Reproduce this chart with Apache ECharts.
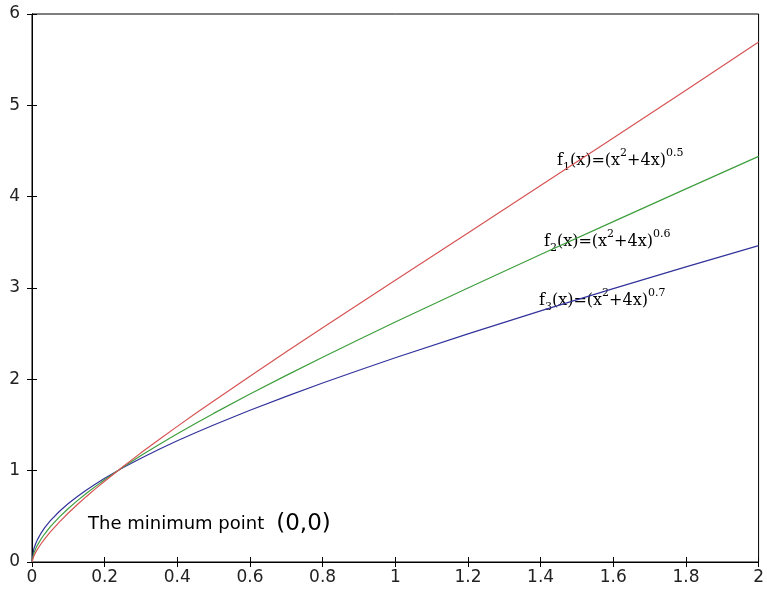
<!DOCTYPE html>
<html>
<head>
	<meta charset="UTF-8">
	<script src="https://cdn.jsdelivr.net/npm/echarts@6/dist/echarts.min.js"></script>
	<title></title>
	<style>html,body{margin:0;padding:0;background:#fff;}</style>
</head>
<body>
	<div id="main" style="height:594px;width:767px;"></div>
	<script type="text/javascript">
        // values
        var xs = [0, 0.005, 0.01, 0.015, 0.025, 0.035, 0.05, 0.075, 0.1, 0.125, 0.15, 0.175, 0.2, 0.25, 0.3, 0.35, 0.4, 0.45, 0.5, 0.6, 0.7, 0.8, 0.9, 1.0, 1.2, 1.4, 1.6, 1.8, 2.0];
        var redY = [0, 0.065, 0.105, 0.140, 0.200, 0.254, 0.327, 0.436, 0.536, 0.629, 0.718, 0.803, 0.885, 1.043, 1.195, 1.342, 1.485, 1.626, 1.764, 2.035, 2.302, 2.565, 2.826, 3.085, 3.603, 4.121, 4.641, 5.165, 5.694];
        var greenY = [0, 0.096, 0.145, 0.185, 0.252, 0.309, 0.384, 0.491, 0.586, 0.672, 0.753, 0.828, 0.901, 1.037, 1.165, 1.287, 1.404, 1.517, 1.627, 1.839, 2.043, 2.242, 2.436, 2.627, 3.000, 3.366, 3.727, 4.085, 4.441];
        var blueY = [0, 0.142, 0.200, 0.245, 0.317, 0.376, 0.450, 0.553, 0.640, 0.718, 0.789, 0.855, 0.917, 1.031, 1.136, 1.234, 1.327, 1.415, 1.500, 1.661, 1.814, 1.960, 2.100, 2.236, 2.498, 2.750, 2.993, 3.231, 3.464];
        var xTicks = [0, 0.2, 0.4, 0.6, 0.8, 1, 1.2, 1.4, 1.6, 1.8, 2];
        var yTicks = [0, 1, 2, 3, 4, 5, 6];

        function pairs(ys) {
            var out = [];
            for (var i = 0; i < xs.length; i++) out.push([xs[i], ys[i]]);
            return out;
        }

        var myChart = echarts.init(document.getElementById('main'));
        var labelFont = {fontFamily: 'DejaVu Sans', fontSize: 17, color: '#222'};
        var formulaRich = {
            b: {fontFamily: 'DejaVu Serif', fontSize: 16, color: '#222', lineHeight: 25, verticalAlign: 'middle'},
            sub: {fontFamily: 'DejaVu Serif', fontSize: 11, color: '#222', lineHeight: 13, verticalAlign: 'bottom'},
            sup: {fontFamily: 'DejaVu Serif', fontSize: 11, color: '#222', lineHeight: 13, verticalAlign: 'top'}
        };
        function formula(n, p) {
            return '{b|f}{sub|' + n + '}{b|(x)=(x}{sup|2}{b|+4x)}{sup|' + p + '}';
        }

        var option = {
            animation: false,
            grid: {left: 32, top: 14, right: 3, bottom: 32, show: true, borderColor: '#000', borderWidth: 1},
            xAxis: [{
                type: 'value', min: 0, max: 2, interval: 0.2,
                axisLine: {lineStyle: {color: '#000'}},
                axisTick: {inside: true, length: 5, lineStyle: {color: '#000'}},
                axisLabel: Object.assign({margin: 7, formatter: function (v) { return xTicks.indexOf(+v.toFixed(1)) >= 0 ? String(+v.toFixed(1)) : ''; }}, labelFont),
                splitLine: {show: false}
            }, {
                type: 'value', position: 'top', min: 0, max: 2, interval: 0.2,
                axisLine: {lineStyle: {color: '#000'}},
                axisTick: {inside: true, length: 5, lineStyle: {color: '#000'}},
                axisLabel: {show: false},
                splitLine: {show: false}
            }],
            yAxis: [{
                type: 'value', min: 0, max: 6, interval: 1,
                axisLine: {show: true, lineStyle: {color: '#000'}},
                axisTick: {show: true, inside: true, length: 5, lineStyle: {color: '#000'}},
                axisLabel: Object.assign({margin: 12, formatter: function (v) { return yTicks.indexOf(v) >= 0 ? String(v) : ''; }}, labelFont),
                splitLine: {show: false}
            }, {
                type: 'value', position: 'right', min: 0, max: 6, interval: 1,
                axisLine: {show: true, lineStyle: {color: '#000'}},
                axisTick: {show: true, inside: true, length: 5, lineStyle: {color: '#000'}},
                axisLabel: {show: false},
                splitLine: {show: false}
            }],
            series: [
                {type: 'line', data: pairs(blueY), showSymbol: false, lineStyle: {color: '#33339c', width: 1.2}},
                {type: 'line', data: pairs(greenY), showSymbol: false, lineStyle: {color: '#3e9e3e', width: 1.2}},
                {type: 'line', data: pairs(redY), showSymbol: false, lineStyle: {color: '#d65454', width: 1.2}}
            ],
            graphic: [
                {type: 'text', left: 557, top: 148, style: {text: formula(1, '0.5'), rich: formulaRich}},
                {type: 'text', left: 544, top: 229, style: {text: formula(2, '0.6'), rich: formulaRich}},
                {type: 'text', left: 539, top: 288, style: {text: formula(3, '0.7'), rich: formulaRich}},
                {type: 'text', left: 88, top: 513, style: {
                    text: '{a|The minimum point}{p|(0,0)}',
                    rich: {
                        a: {fontFamily: 'DejaVu Sans', fontSize: 18, color: '#333', lineHeight: 26, verticalAlign: 'middle'},
                        p: {fontFamily: 'DejaVu Sans', fontSize: 23, color: '#33385a', lineHeight: 26, verticalAlign: 'middle', padding: [0, 0, 0, 12]}
                    }
                }}
            ]
        };
        myChart.setOption(option);
	</script>
</body>
</html>
